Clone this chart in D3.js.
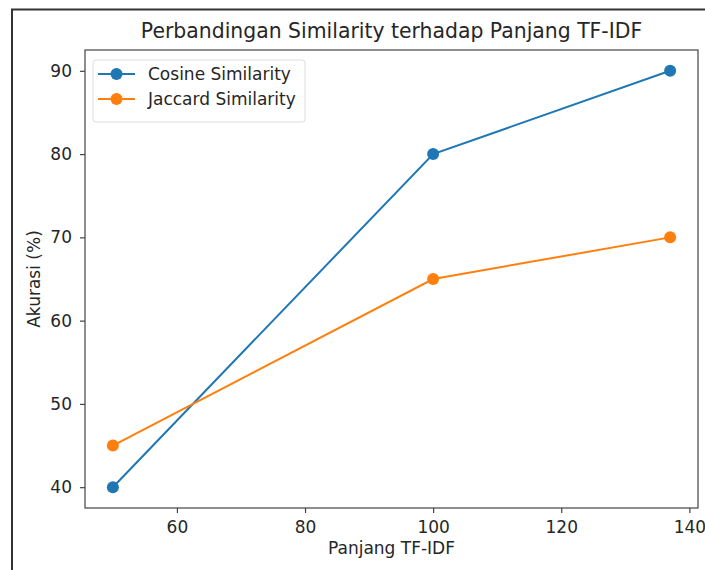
<!DOCTYPE html>
<html>
<head>
<meta charset="utf-8">
<script src="https://cdn.jsdelivr.net/npm/d3@7"></script>
<style>
  body { margin: 0; background: #fff; }
  text { font-family: "DejaVu Sans", sans-serif; fill: #262626; }
</style>
</head>
<body>
<div id="chart-container"></div>
<script>
// data
var lengths = [50, 100, 137];
var cosine = [40, 80, 90];
var jaccard = [45, 65, 70];
var xTicks = [60, 80, 100, 120, 140];
var yTicks = [40, 50, 60, 70, 80, 90];
var seriesNames = ["Cosine Similarity", "Jaccard Similarity"];
var seriesColors = ["#1f77b4", "#ff7f0e"];

var W = 705, H = 570;
var margin = { top: 50, right: 7, bottom: 62, left: 85 };
var width = W - margin.left - margin.right;
var height = H - margin.top - margin.bottom;

var svg = d3.select("#chart-container")
    .append("svg")
    .attr("width", W)
    .attr("height", H);

// screenshot frame on left and top
svg.append("path")
    .attr("d", "M12,570 L12,9.5 L705,9.5")
    .attr("fill", "none")
    .attr("stroke", "#333")
    .attr("stroke-width", 2);

var g = svg.append("g")
    .attr("transform", "translate(" + margin.left + "," + margin.top + ")");

// matplotlib style 5% padding
var xPad = (137 - 50) * 0.05;
var yPad = (90 - 40) * 0.05;
var xScale = d3.scaleLinear()
    .domain([d3.min(lengths) - xPad, d3.max(lengths) + xPad])
    .range([0, width]);
var yScale = d3.scaleLinear()
    .domain([d3.min(cosine.concat(jaccard)) - yPad, d3.max(cosine.concat(jaccard)) + yPad])
    .range([height, 0]);

var xAxis = d3.axisBottom(xScale).tickValues(xTicks).tickSize(5).tickPadding(8);
var yAxis = d3.axisLeft(yScale).tickValues(yTicks).tickSize(5).tickPadding(8);

var gx = g.append("g")
    .attr("transform", "translate(0," + height + ")")
    .call(xAxis);
var gy = g.append("g").call(yAxis);

[gx, gy].forEach(function(ax) {
    ax.select(".domain").remove();
    ax.selectAll("line").attr("stroke", "#444").attr("stroke-width", 1.2);
    ax.selectAll("text")
        .style("font-family", "DejaVu Sans")
        .style("font-size", "17px")
        .attr("fill", "#262626");
});

// frame
g.append("rect")
    .attr("width", width)
    .attr("height", height)
    .attr("fill", "none")
    .attr("stroke", "#444")
    .attr("stroke-width", 1.2);

var series = [cosine, jaccard];
series.forEach(function(vals, i) {
    var pts = lengths.map(function(x, j) { return [x, vals[j]]; });
    g.append("path")
        .datum(pts)
        .attr("fill", "none")
        .attr("stroke", seriesColors[i])
        .attr("stroke-width", 2)
        .attr("d", d3.line()
            .x(function(d) { return xScale(d[0]); })
            .y(function(d) { return yScale(d[1]); }));
    g.selectAll(".pt" + i)
        .data(pts)
        .enter().append("circle")
        .attr("cx", function(d) { return xScale(d[0]); })
        .attr("cy", function(d) { return yScale(d[1]); })
        .attr("r", 6)
        .attr("fill", seriesColors[i]);
});

// legend
var legend = g.append("g").attr("transform", "translate(8,10)");
legend.append("rect")
    .attr("width", 212)
    .attr("height", 62)
    .attr("rx", 3)
    .attr("fill", "#fff")
    .attr("fill-opacity", 0.8)
    .attr("stroke", "#ddd");
seriesNames.forEach(function(name, i) {
    var y = 14 + i * 25;
    legend.append("line")
        .attr("x1", 5).attr("x2", 42)
        .attr("y1", y).attr("y2", y)
        .attr("stroke", seriesColors[i])
        .attr("stroke-width", 2);
    legend.append("circle")
        .attr("cx", 23.5).attr("cy", y).attr("r", 6)
        .attr("fill", seriesColors[i]);
    legend.append("text")
        .attr("x", 55)
        .attr("y", y)
        .attr("dy", "0.35em")
        .style("font-size", "17px")
        .text(name);
});

// title and axis labels
svg.append("text")
    .attr("x", margin.left + width / 2)
    .attr("y", 38)
    .attr("text-anchor", "middle")
    .style("font-size", "20.4px")
    .text("Perbandingan Similarity terhadap Panjang TF-IDF");

svg.append("text")
    .attr("x", margin.left + width / 2)
    .attr("y", 554)
    .attr("text-anchor", "middle")
    .style("font-size", "17px")
    .text("Panjang TF-IDF");

svg.append("text")
    .attr("transform", "translate(40," + (margin.top + height / 2) + ") rotate(-90)")
    .attr("text-anchor", "middle")
    .style("font-size", "17px")
    .text("Akurasi (%)");
</script>
</body>
</html>
